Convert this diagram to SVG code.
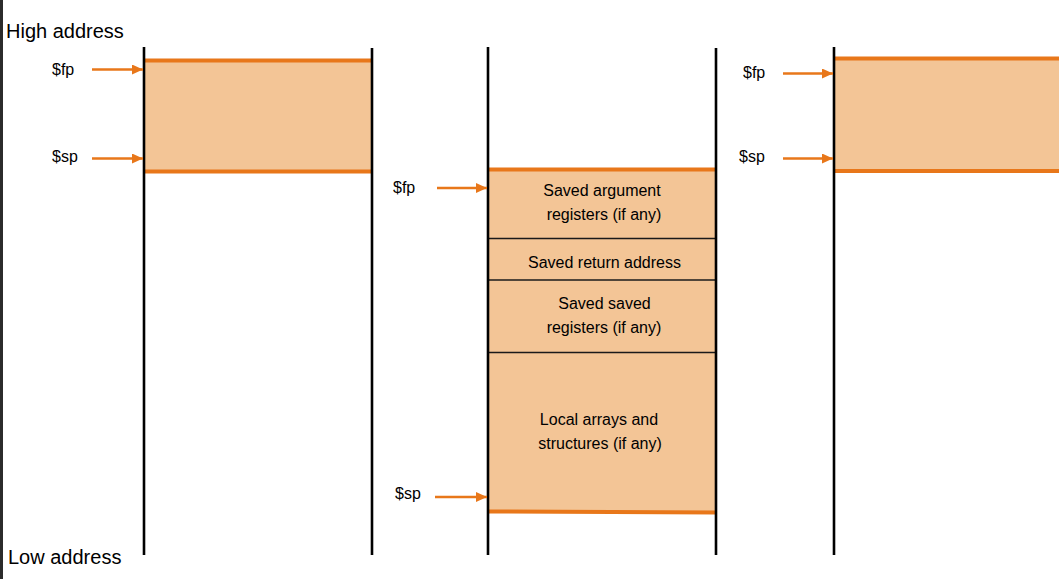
<svg xmlns="http://www.w3.org/2000/svg" width="1059" height="579" viewBox="0 0 1059 579">
<defs>
<style>
.bg{fill:#ffffff}
.strip{fill:#2b2b2b}
.wall{stroke:#000;stroke-width:2.6;fill:none}
.band{fill:#f3c596}
.edge{stroke:#e8771a;stroke-width:4;fill:none}
.div{stroke:#1a1a1a;stroke-width:1.4;fill:none}
.arr{stroke:#e8771a;stroke-width:2.4;fill:none;marker-end:url(#ah)}
.lbl{font-family:"Liberation Sans",Arial,sans-serif;font-size:16px;fill:#000}
.mid{text-anchor:middle}
.big{font-family:"Liberation Sans",Arial,sans-serif;font-size:20px;fill:#000}
</style>
<marker id="ah" markerUnits="userSpaceOnUse" markerWidth="12" markerHeight="11" refX="11" refY="5" orient="auto">
<path d="M0,0 L11,5 L0,10 z" fill="#e8771a"/>
</marker>
</defs>
<rect class="bg" x="0" y="0" width="1059" height="579"/>
<rect class="strip" x="0" y="0" width="3" height="579"/>

<g id="axis-labels">
<text class="big" x="6" y="38">High address</text>
<text class="big" x="8" y="564">Low address</text>
</g>

<g id="frame-caller">
<rect class="band" x="144" y="60" width="228" height="112"/>
<line class="edge" x1="144" y1="60.5" x2="372" y2="60.5"/>
<line class="edge" x1="144" y1="171.5" x2="372" y2="171.5"/>
<line class="wall" x1="144" y1="47" x2="144" y2="555"/>
<line class="wall" x1="372" y1="48" x2="372" y2="555"/>
<text class="lbl" x="52" y="75">$fp</text>
<text class="lbl" x="52" y="162">$sp</text>
</g>

<g id="frame-callee">
<rect class="band" x="488" y="170" width="228" height="342"/>
<line class="edge" x1="488" y1="511.5" x2="716" y2="512.5"/>
<line class="edge" x1="488" y1="169.5" x2="716" y2="169.5"/>
<line class="div" x1="488" y1="238.5" x2="716" y2="238.5"/>
<line class="div" x1="488" y1="280" x2="716" y2="280"/>
<line class="div" x1="488" y1="352.5" x2="716" y2="352.5"/>
<line class="wall" x1="488" y1="47" x2="488" y2="555"/>
<line class="wall" x1="716" y1="48" x2="716" y2="555"/>
<text class="lbl mid" x="602" y="196">Saved argument</text>
<text class="lbl mid" x="604" y="220">registers (if any)</text>
<text class="lbl mid" x="604.5" y="268">Saved return address</text>
<text class="lbl mid" x="604.5" y="309">Saved saved</text>
<text class="lbl mid" x="604" y="333">registers (if any)</text>
<text class="lbl mid" x="599" y="425">Local arrays and</text>
<text class="lbl mid" x="600" y="449">structures (if any)</text>
<text class="lbl" x="393" y="193">$fp</text>
<text class="lbl" x="395" y="499">$sp</text>
</g>

<g id="frame-after">
<rect class="band" x="834" y="58" width="225" height="113"/>
<line class="edge" x1="834" y1="58.5" x2="1059" y2="58.5"/>
<line class="edge" x1="834" y1="171" x2="1059" y2="171"/>
<line class="wall" x1="834" y1="47" x2="834" y2="555"/>
<text class="lbl" x="743" y="78">$fp</text>
<text class="lbl" x="739" y="162">$sp</text>
</g>

<g id="connectors">
<line class="arr" x1="92" y1="69.5" x2="143" y2="69.5"/>
<line class="arr" x1="92" y1="158.5" x2="143" y2="158.5"/>
<line class="arr" x1="437" y1="188" x2="487" y2="188"/>
<line class="arr" x1="435" y1="497" x2="487" y2="497"/>
<line class="arr" x1="783" y1="73.5" x2="833" y2="73.5"/>
<line class="arr" x1="783" y1="158.5" x2="833" y2="158.5"/>
</g>
</svg>
